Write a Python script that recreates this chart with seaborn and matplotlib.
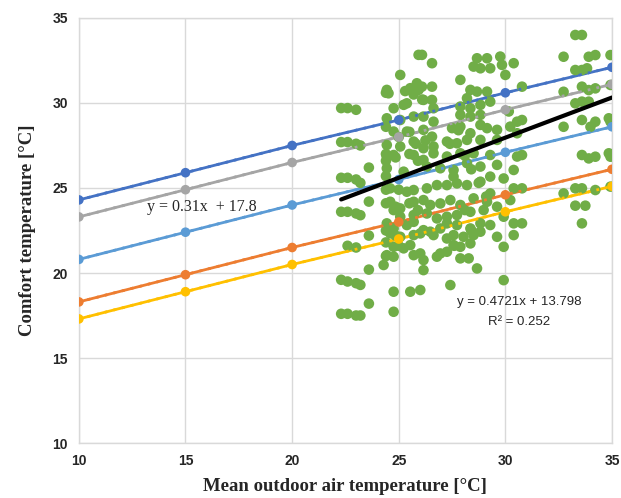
import numpy as np
import pandas as pd
import matplotlib
matplotlib.use("Agg")
import matplotlib.pyplot as plt
import seaborn as sns

# ---- data ----
x_ref = [10, 15, 20, 25, 30, 35]

upper_80 = [24.3, 25.9, 27.5, 29.0, 30.6, 32.1]
neutral = [23.3, 24.9, 26.5, 28.0, 29.6, 31.1]
upper_90 = [20.8, 22.4, 24.0, 25.5, 27.1, 28.6]
lower_90 = [18.3, 19.9, 21.5, 23.0, 24.6, 26.1]
lower_80 = [17.3, 18.9, 20.5, 22.0, 23.6, 25.1]

series_names = ["upper_80", "neutral", "upper_90", "lower_90", "lower_80"]
series_colors = ["#4472C4", "#A5A5A5", "#5B9BD5", "#ED7D31", "#FFC000"]

# observed comfort votes (scatter)
obs_x = [
    # left cluster
    22.3, 22.3, 22.3, 22.3, 22.3, 22.3,
    22.6, 22.6, 22.6, 22.6, 22.6, 22.6, 22.6,
    23.0, 23.0, 23.0, 23.0, 23.0, 23.0, 23.0,
    23.2, 23.2, 23.2, 23.2, 23.2,
    23.6, 23.6, 23.6, 23.6, 23.6,
    # upper middle
    25.93, 26.09, 26.56, 25.07, 24.44, 24.52,
    25.54, 25.85, 25.93, 26.09, 26.56,
    28.67, 29.14, 29.76, 28.51, 28.83, 29.29, 29.84, 30.39,
    30.0, 27.89,
    28.36, 28.67, 29.14, 28.2,
    24.76, 25.23, 25.38, 26.16, 26.56, 26.63,
    24.44, 25.07, 25.7, 26.16, 26.63,
    27.89, 28.36, 28.83, 29.29, 27.89, 28.36, 28.83,
    30.55, 30.16,
    24.76, 25.38, 26.16, 26.56,
    27.5, 27.89, 28.36, 28.83, 29.14, 29.61, 30.23, 30.55,
    24.44, 25.07, 25.7, 26.16, 26.63, 27.26, 27.73,
    28.2, 28.83, 29.61,
    24.44, 24.76, 25.7, 26.16, 26.63, 27.26, 27.89, 28.51, 29.29,
    24.44, 25.23, 26.32, 26.95, 27.57, 28.2, 28.83, 29.61, 30.39, 30.55,
    27.57, 29.29,
    # dense core
    24.4, 25.3, 25.7, 26.1, 24.4, 25.0, 25.5, 25.8, 26.25,
    24.4, 24.4, 24.85, 25.5, 25.9, 24.4, 25.0, 24.4, 24.4,
    24.85, 25.5, 25.9, 24.4, 24.85, 24.4, 25.0, 24.4,
    27.4, 27.8, 28.1, 28.4, 28.75, 29.1, 28.1, 28.4, 27.6,
    # lower middle
    24.6, 25.38, 25.7, 26.32, 26.79, 27.26, 27.73, 28.2, 28.83, 29.29, 29.92, 30.39,
    24.6, 25.07, 25.7, 26.16, 26.48, 26.95, 27.42, 27.89, 28.51, 29.14, 30.23,
    24.76, 25.07, 25.7, 26.32, 26.79, 27.26, 27.73, 28.36, 28.98, 29.61, 29.92,
    24.44, 24.76, 25.38, 25.7, 26.16, 26.48, 26.95, 27.26, 27.73, 28.36, 28.83, 29.29, 30.39,
    24.6, 25.07, 25.7, 26.01, 26.63, 27.26, 27.57, 28.04, 28.51, 28.83, 29.61, 30.39,
    24.76, 25.23, 25.54, 26.01, 26.95, 27.26, 27.57, 27.89, 28.36, 29.92,
    24.44, 24.76, 25.7, 26.16, 26.79, 27.89, 28.28,
    24.29, 26.16, 28.67,
    27.42, 29.92,
    24.76, 25.54, 26.01,
    24.76,
    # right side
    33.28, 33.59,
    32.73, 33.91, 34.22, 34.93,
    33.28, 33.59, 33.83,
    30.78, 32.73, 33.59, 33.91, 34.22, 34.93,
    33.28, 33.59, 33.91,
    30.78, 32.73, 33.59, 33.99, 34.22, 34.85, 34.93,
    30.78, 33.59, 33.91, 34.22, 34.85, 34.93,
    30.78, 32.73, 33.28, 33.59, 34.22, 34.93,
    33.28, 33.75,
    30.78, 33.59,
]
obs_y = [
    29.7, 27.7, 25.6, 23.6, 19.6, 17.6,
    29.7, 27.7, 25.6, 23.6, 21.6, 19.5, 17.6,
    29.6, 27.6, 25.5, 23.5, 21.5, 19.4, 17.5,
    27.5, 25.3, 23.4, 19.3, 17.5,
    26.2, 24.2, 22.2, 20.2, 18.2,
    32.83, 32.83, 32.34, 31.65, 30.77, 30.57,
    30.87, 31.16, 30.77, 30.96, 30.96,
    32.63, 32.63, 32.73, 32.14, 32.04, 32.04, 32.24, 32.34,
    31.65, 31.36,
    30.77, 30.67, 30.67, 30.28,
    29.69, 29.89, 29.98, 30.18, 30.18, 29.69,
    29.1, 29.0, 29.2, 29.2, 28.9,
    29.79, 29.69, 29.89, 30.08, 29.3, 29.2, 29.3,
    28.9, 29.5,
    28.32, 28.32, 28.42, 28.02,
    28.52, 28.61, 28.22, 28.71, 28.52, 28.42, 28.61, 28.22,
    27.53, 27.44, 27.73, 27.34, 27.44, 27.73, 27.63,
    27.83, 27.83, 27.83,
    26.85, 26.94, 26.94, 26.65, 27.04, 26.85, 27.04, 27.04, 26.94,
    26.16, 25.96, 26.26, 26.16, 26.06, 26.46, 26.26, 26.36, 26.06, 26.85,
    25.67, 25.67,
    30.6, 30.7, 30.5, 30.2, 28.6, 28.0, 28.3, 27.6, 27.8,
    27.0, 26.6, 26.8, 27.0, 26.6, 25.7, 24.9, 24.9, 24.1,
    23.9, 24.1, 23.7, 22.5, 22.2, 21.8, 21.6, 21.0,
    27.6, 28.4, 26.9, 26.1, 25.3, 24.5, 23.7, 22.5, 21.6,
    24.98, 24.78, 24.88, 24.98, 25.17, 25.17, 25.27, 25.17, 25.37, 24.68, 25.56, 24.98,
    24.19, 23.8, 24.19, 24.29, 24.0, 24.09, 24.29, 24.0, 24.39, 24.19, 24.29,
    23.7, 23.31, 23.41, 23.5, 23.21, 23.31, 23.41, 23.6, 23.7, 23.9, 23.31,
    22.92, 22.62, 22.82, 23.01, 22.52, 22.43, 22.62, 22.92, 22.82, 22.62, 22.92, 22.82, 22.92,
    22.33, 22.13, 22.23, 22.33, 22.23, 22.03, 22.23, 22.13, 22.23, 22.43, 22.13, 22.23,
    21.54, 21.45, 21.64, 21.15, 21.15, 21.25, 21.64, 21.54, 21.74, 21.54,
    21.05, 20.96, 21.05, 20.76, 20.96, 20.86, 20.86,
    20.47, 20.17, 20.27,
    19.29, 19.58,
    18.9, 18.9, 19.0,
    17.72,
    34.0, 34.0,
    32.72, 32.72, 32.82, 32.82,
    31.94, 31.94, 32.04,
    30.96, 30.66, 30.96, 30.76, 30.86, 31.06,
    29.98, 30.08, 30.08,
    29.0, 28.6, 29.0, 28.6, 28.9, 29.1, 28.9,
    26.94, 26.94, 26.74, 26.84, 27.04, 26.84,
    24.98, 24.68, 24.98, 24.98, 24.88, 25.08,
    23.96, 23.96,
    22.92, 22.92,
]

# trendline of the observations, as printed on the chart
reg_slope = 0.4721
reg_icpt = 13.798
reg_x = [22.3, 35]

# ---- build tables ----
lines_df = pd.DataFrame({"x": x_ref, "upper_80": upper_80, "neutral": neutral,
                         "upper_90": upper_90, "lower_90": lower_90,
                         "lower_80": lower_80})
lines_long = lines_df.melt(id_vars="x", var_name="series", value_name="y")
obs_df = pd.DataFrame({"x": obs_x, "y": obs_y})
reg_df = pd.DataFrame({"x": reg_x})
reg_df["y"] = reg_slope * reg_df["x"] + reg_icpt

sns.set_style("whitegrid")

fig = plt.figure(figsize=(6.21, 4.98), dpi=100)
ax = fig.add_axes([0.127, 0.1104, 0.8585, 0.8535])

palette = dict(zip(series_names, series_colors))

# solid lines sit under the dots
sns.lineplot(data=lines_long, x="x", y="y", hue="series", palette=palette,
             hue_order=series_names, linewidth=2.0, legend=False, ax=ax, zorder=2)

sns.scatterplot(data=obs_df, x="x", y="y", color="#70AD47", s=58,
                edgecolor="none", ax=ax, zorder=3)

# dotted trendlines + markers drawn over the dots
for name, col in zip(series_names, series_colors):
    ax.plot(lines_df["x"], lines_df[name], linestyle=(0, (1, 2.2)), color=col,
            linewidth=2.0, zorder=4)
    sns.scatterplot(x=lines_df["x"], y=lines_df[name], color=col, s=48,
                    edgecolor="none", ax=ax, zorder=5)

sns.lineplot(data=reg_df, x="x", y="y", color="black", linewidth=3.0, ax=ax, zorder=6)

ax.set_xlim(10, 35)
ax.set_ylim(10, 35)
ax.set_xticks([10, 15, 20, 25, 30, 35])
ax.set_yticks([10, 15, 20, 25, 30, 35])
ax.grid(True, color="#D9D9D9", linewidth=1.0)
for sp in ax.spines.values():
    sp.set_color("#D9D9D9")
    sp.set_linewidth(1.0)
ax.tick_params(length=0, pad=8)
for lab in ax.get_xticklabels() + ax.get_yticklabels():
    lab.set_fontfamily("Liberation Sans")
    lab.set_fontweight("bold")
    lab.set_fontsize(10)

ax.set_xlabel("Mean outdoor air temperature [°C]", fontfamily="Liberation Serif",
              fontweight="bold", fontsize=13.5, labelpad=7)
ax.set_ylabel("Comfort temperature [°C]", fontfamily="Liberation Serif",
              fontweight="bold", fontsize=13.5, labelpad=12)

ax.text(13.2, 23.9, "y = 0.31x  + 17.8", fontfamily="Liberation Serif",
        fontsize=11.5, ha="left", va="center", zorder=7)
ax.text(30.66, 18.3, "y = 0.4721x + 13.798", fontfamily="Liberation Sans",
        fontsize=9.5, ha="center", va="center", zorder=7)
ax.text(30.66, 17.1, "R² = 0.252", fontfamily="Liberation Sans",
        fontsize=9.5, ha="center", va="center", zorder=7)

fig.savefig("out.png", dpi=100)
